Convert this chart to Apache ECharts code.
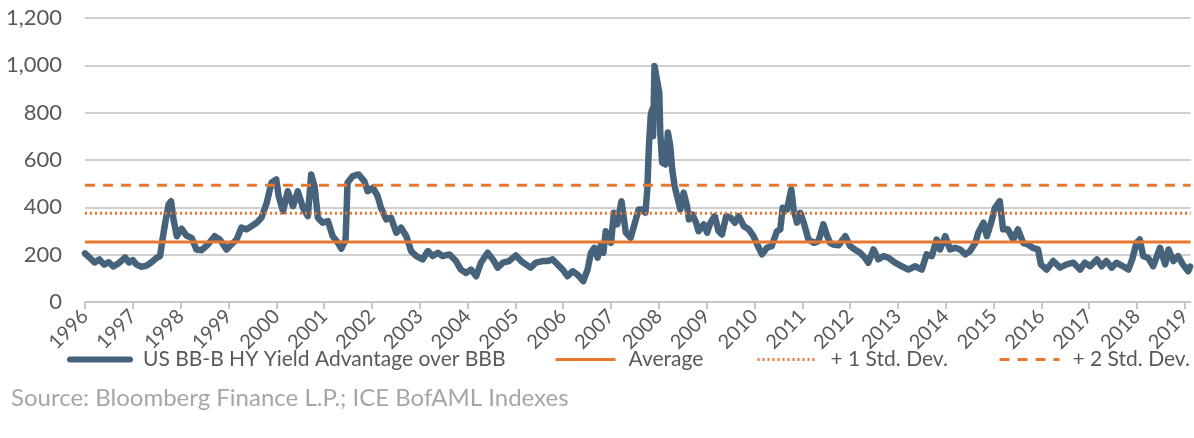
<!DOCTYPE html>
<html>
<head>
<meta charset="utf-8">
<script src="https://cdn.jsdelivr.net/npm/echarts@6/dist/echarts.min.js"></script>
<style>
  html, body { margin: 0; padding: 0; background: #fff; }
  #chart { width: 1194px; height: 438px; }
</style>
</head>
<body>
<div id="chart"></div>
<script>
// decimal year / spread in bp
var dates = [
  1996.00, 1996.10, 1996.20, 1996.30, 1996.40, 1996.50, 1996.59, 1996.70, 1996.84, 1996.92,
  1997.00, 1997.08, 1997.18, 1997.29, 1997.39, 1997.50, 1997.57, 1997.62, 1997.69, 1997.75,
  1997.80, 1997.85, 1997.92, 1998.02, 1998.12, 1998.23, 1998.33, 1998.44, 1998.57, 1998.71,
  1998.82, 1998.96, 1999.06, 1999.17, 1999.27, 1999.38, 1999.48, 1999.59, 1999.69, 1999.80,
  1999.90, 2000.00, 2000.05, 2000.14, 2000.24, 2000.35, 2000.45, 2000.56, 2000.66, 2000.73,
  2000.80, 2000.87, 2000.97, 2001.08, 2001.18, 2001.29, 2001.36, 2001.45, 2001.49, 2001.60,
  2001.72, 2001.84, 2001.91, 2002.02, 2002.12, 2002.19, 2002.30, 2002.40, 2002.51, 2002.61,
  2002.72, 2002.82, 2002.93, 2003.06, 2003.17, 2003.27, 2003.38, 2003.48, 2003.62, 2003.76,
  2003.86, 2003.97, 2004.07, 2004.18, 2004.28, 2004.42, 2004.53, 2004.63, 2004.74, 2004.87,
  2005.01, 2005.12, 2005.22, 2005.32, 2005.43, 2005.57, 2005.67, 2005.78, 2005.88, 2005.99,
  2006.09, 2006.20, 2006.30, 2006.42, 2006.51, 2006.58, 2006.65, 2006.72, 2006.79, 2006.84,
  2006.89, 2007.00, 2007.06, 2007.13, 2007.22, 2007.31, 2007.41, 2007.52, 2007.58, 2007.65,
  2007.72, 2007.76, 2007.79, 2007.83, 2007.86, 2007.88, 2007.91, 2007.96, 2008.01, 2008.03,
  2008.07, 2008.14, 2008.19, 2008.24, 2008.28, 2008.33, 2008.40, 2008.45, 2008.52, 2008.59,
  2008.63, 2008.70, 2008.78, 2008.83, 2008.94, 2009.01, 2009.08, 2009.17, 2009.25, 2009.32,
  2009.41, 2009.50, 2009.59, 2009.67, 2009.78, 2009.88, 2009.98, 2010.09, 2010.16, 2010.26,
  2010.36, 2010.47, 2010.54, 2010.59, 2010.68, 2010.77, 2010.82, 2010.89, 2010.96, 2011.03,
  2011.13, 2011.24, 2011.34, 2011.44, 2011.51, 2011.58, 2011.65, 2011.76, 2011.90, 2012.00,
  2012.10, 2012.21, 2012.31, 2012.38, 2012.49, 2012.59, 2012.70, 2012.80, 2012.94, 2013.08,
  2013.22, 2013.36, 2013.50, 2013.60, 2013.71, 2013.81, 2013.88, 2013.99, 2014.09, 2014.20,
  2014.30, 2014.41, 2014.51, 2014.62, 2014.68, 2014.79, 2014.86, 2014.96, 2015.03, 2015.13,
  2015.20, 2015.30, 2015.41, 2015.51, 2015.62, 2015.72, 2015.82, 2015.93, 2015.99, 2016.11,
  2016.25, 2016.39, 2016.53, 2016.67, 2016.81, 2016.91, 2017.02, 2017.16, 2017.26, 2017.36,
  2017.47, 2017.57, 2017.71, 2017.82, 2017.90, 2017.99, 2018.06, 2018.13, 2018.23, 2018.34,
  2018.48, 2018.59, 2018.66, 2018.76, 2018.86, 2018.96, 2019.07, 2019.11
];
var spread = [
  205, 187, 167, 180, 158, 168, 150, 163, 188, 167,
  177, 158, 149, 154, 168, 187, 194, 264, 349, 412,
  426, 349, 278, 310, 281, 271, 222, 219, 243, 278,
  264, 222, 243, 264, 314, 307, 320, 335, 356, 419,
  504, 518, 447, 384, 468, 405, 468, 398, 363, 539,
  490, 356, 335, 342, 278, 250, 225, 264, 504, 532,
  539, 511, 468, 483, 447, 398, 349, 356, 293, 314,
  278, 215, 194, 180, 215, 194, 208, 194, 201, 173,
  137, 123, 137, 109, 166, 208, 180, 145, 166, 173,
  197, 173, 159, 145, 166, 173, 173, 180, 159, 137,
  109, 130, 116, 88, 137, 208, 229, 187, 243, 208,
  299, 250, 377, 328, 426, 293, 271, 349, 391, 391,
  377, 476, 645, 786, 814, 701, 997, 941, 885, 716,
  589, 581, 716, 659, 560, 490, 433, 391, 462, 405,
  349, 370, 335, 299, 328, 293, 335, 363, 299, 285,
  363, 356, 335, 363, 320, 307, 278, 229, 201, 229,
  236, 299, 307, 398, 391, 476, 391, 335, 377, 335,
  264, 250, 257, 328, 285, 250, 243, 240, 278, 236,
  222, 208, 187, 166, 222, 180, 194, 187, 166, 151,
  137, 151, 137, 201, 194, 264, 222, 278, 222, 229,
  222, 201, 215, 250, 293, 335, 278, 342, 398, 426,
  307, 307, 264, 307, 250, 243, 229, 222, 159, 137,
  173, 145, 159, 166, 137, 166, 151, 180, 151, 173,
  145, 166, 151, 137, 180, 250, 264, 194, 187, 151,
  229, 159, 222, 173, 194, 159, 130, 150
];

var average = 253;
var plus1Std = 375;
var plus2Std = 493;
var xStart = 1996, xEnd = 2019.12;

var seriesNames = ['US BB-B HY Yield Advantage over BBB', 'Average', '+ 1 Std. Dev.', '+ 2 Std. Dev.'];
var legendLeft = [67, 554, 756, 998];
var sourceText = 'Source: Bloomberg Finance L.P.; ICE BofAML Indexes';

var blue = '#46637b';
var orange = '#e8782f';
var fontName = 'Lato, "Open Sans", sans-serif';

function flatLine(v) {
    return [[xStart, v], [xEnd, v]];
}

var myChart = echarts.init(document.getElementById('chart'));

// one legend per item so each can sit where the original has it
var legendWidths = [6, 3, 3, 3];
var legends = seriesNames.map(function (name, i) {
    return {
        data: [name],
        left: legendLeft[i],
        top: 349,
        itemWidth: 60,
        itemHeight: 14,
        padding: 0,
        itemStyle: { opacity: 0 },
        lineStyle: { width: legendWidths[i] },
        textStyle: { fontSize: 21, color: '#595959', fontFamily: fontName, padding: [0, 0, 0, 8] }
    };
});

myChart.setOption({
    animation: false,
    textStyle: { fontFamily: fontName },
    title: {
        text: sourceText,
        left: 6,
        top: 381,
        textStyle: { fontSize: 24, fontWeight: 'normal', color: '#a6a6a6', fontFamily: fontName }
    },
    legend: legends,
    grid: { left: 85, right: 2, top: 18, bottom: 136, containLabel: false },
    xAxis: {
        type: 'value',
        min: xStart,
        max: xEnd,
        interval: 1,
        splitLine: { show: false },
        axisLine: { lineStyle: { color: '#c8c8c8', width: 2 } },
        axisTick: { show: true, length: 7, lineStyle: { color: '#c8c8c8', width: 2 } },
        axisLabel: {
            rotate: 45,
            margin: 11,
            fontSize: 20,
            color: '#595959',
            showMaxLabel: false,
            formatter: function (v) {
                if (Math.abs(v - Math.round(v)) > 0.01) return '';
                return String(Math.round(v));
            }
        }
    },
    yAxis: {
        type: 'value',
        min: 0,
        max: 1200,
        interval: 200,
        axisLine: { show: false },
        axisTick: { show: false },
        splitLine: { lineStyle: { color: '#d0d0d0', width: 2 } },
        axisLabel: {
            margin: 23,
            fontSize: 22,
            color: '#595959',
            formatter: function (v) { return v.toLocaleString('en-US'); }
        }
    },
    series: [
        {
            name: seriesNames[0],
            type: 'line',
            data: dates.map(function (d, i) { return [d, spread[i]]; }),
            showSymbol: false,
            symbol: 'none',
            lineStyle: { color: blue, width: 6.5, join: 'round', cap: 'round' },
            itemStyle: { color: blue },
            z: 2
        },
        {
            name: seriesNames[1],
            type: 'line',
            data: flatLine(average),
            symbol: 'none',
            lineStyle: { color: orange, width: 3 },
            itemStyle: { color: orange },
            z: 3
        },
        {
            name: seriesNames[2],
            type: 'line',
            data: flatLine(plus1Std),
            symbol: 'none',
            lineStyle: { color: orange, width: 3, type: [2, 3] },
            itemStyle: { color: orange },
            z: 3
        },
        {
            name: seriesNames[3],
            type: 'line',
            data: flatLine(plus2Std),
            symbol: 'none',
            lineStyle: { color: orange, width: 3, type: [10, 8] },
            itemStyle: { color: orange },
            z: 3
        }
    ]
});
</script>
</body>
</html>
